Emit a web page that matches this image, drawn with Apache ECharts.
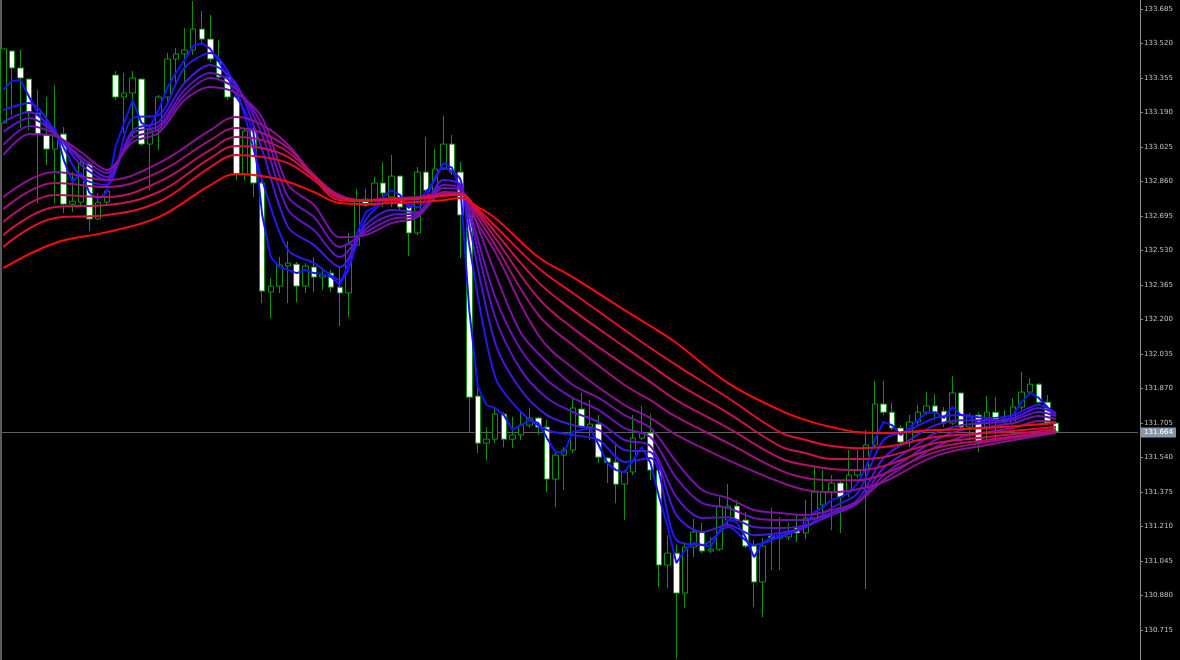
<!DOCTYPE html>
<html>
<head>
<meta charset="utf-8">
<script src="https://cdn.jsdelivr.net/npm/echarts@6/dist/echarts.min.js"></script>
<style>
html,body{margin:0;padding:0;background:#000;}
#chart{width:1180px;height:660px;}
</style>
</head>
<body>
<div id="chart"></div>
<script>
// ---- data ----
const slotCount = 132; // bar slots on the time axis (last 9 are the empty right margin)
const categories = Array.from({length: slotCount}, (_, i) => 'b' + i);

// candles: [open, close, low, high]
const candles = [
[133.140,133.494,133.140,133.494],[133.484,133.403,133.178,133.489],[133.403,133.355,133.116,133.489],
[133.350,133.188,133.106,133.350],[133.188,133.087,132.757,133.298],[133.082,133.015,132.939,133.264],
[133.015,133.082,132.757,133.321],[133.087,132.752,132.709,133.120],[132.752,132.766,132.714,132.905],
[132.761,132.949,132.747,132.968],[132.944,132.681,132.623,132.953],[132.681,132.761,132.676,132.805],
[132.761,132.814,132.747,132.824],[133.369,133.264,133.250,133.388],[133.264,133.283,133.092,133.379],
[133.283,133.355,133.073,133.388],[133.350,133.039,133.030,133.350],[133.039,133.106,132.819,133.130],
[133.106,133.264,133.011,133.274],[133.264,133.446,133.226,133.475],[133.446,133.470,133.317,133.498],
[133.470,133.489,133.331,133.594],[133.489,133.589,133.465,133.722],[133.589,133.541,133.513,133.675],
[133.541,133.446,133.431,133.656],[133.436,133.360,133.345,133.537],[133.360,133.264,133.250,133.360],
[133.264,132.896,132.867,133.307],[132.896,133.102,132.867,133.116],[133.106,132.853,132.786,133.140],
[132.853,132.336,132.279,132.867],[132.332,132.360,132.207,132.398],[132.360,132.461,132.327,132.499],
[132.456,132.470,132.279,132.575],[132.465,132.360,132.284,132.475],[132.360,132.456,132.327,132.470],
[132.451,132.403,132.332,132.499],[132.403,132.413,132.341,132.437],[132.422,132.355,132.332,132.437],
[132.355,132.327,132.169,132.451],[132.327,132.561,132.212,132.614],[132.556,132.771,132.551,132.824],
[132.776,132.747,132.738,132.824],[132.747,132.853,132.738,132.882],[132.853,132.805,132.738,132.953],
[132.786,132.886,132.738,132.987],[132.886,132.738,132.724,132.886],[132.738,132.614,132.504,132.747],
[132.614,132.905,132.604,132.929],[132.905,132.819,132.810,133.073],[132.819,132.920,132.771,133.015],
[132.920,133.039,132.915,133.173],[133.039,132.905,132.891,133.082],[132.905,132.700,132.494,132.953],
[132.700,131.829,131.662,132.709],[131.834,131.609,131.561,131.896],[131.609,131.628,131.528,131.686],
[131.628,131.748,131.609,131.777],[131.748,131.628,131.590,131.757],[131.628,131.648,131.585,131.734],
[131.648,131.695,131.624,131.767],[131.695,131.729,131.681,131.777],[131.729,131.686,131.648,131.734],
[131.686,131.437,131.375,131.719],[131.437,131.552,131.303,131.566],[131.552,131.576,131.385,131.590],
[131.576,131.777,131.561,131.825],[131.772,131.686,131.681,131.849],[131.686,131.700,131.624,131.815],
[131.700,131.542,131.514,131.743],[131.538,131.518,131.418,131.542],[131.518,131.413,131.322,131.609],
[131.413,131.471,131.241,131.480],[131.471,131.633,131.456,131.743],[131.633,131.657,131.624,131.787],
[131.657,131.480,131.432,131.748],[131.480,131.026,130.921,131.490],[131.026,131.083,130.916,131.169],
[131.083,130.892,130.580,131.122],[130.892,131.112,130.820,131.136],[131.112,131.184,131.064,131.246],
[131.184,131.093,131.083,131.227],[131.093,131.102,131.083,131.160],[131.102,131.308,131.093,131.351],
[131.241,131.308,131.217,131.413],[131.308,131.241,131.232,131.337],[131.241,131.117,131.107,131.280],
[131.117,130.945,130.825,131.146],[130.945,131.117,130.777,131.155],[131.165,131.155,131.002,131.299],
[131.155,131.165,131.002,131.255],[131.160,131.179,131.146,131.227],[131.203,131.179,131.136,131.265],
[131.179,131.251,131.150,131.337],[131.251,131.375,131.232,131.495],[131.313,131.375,131.241,131.480],
[131.375,131.418,131.193,131.456],[131.418,131.351,131.179,131.428],[131.375,131.456,131.351,131.576],
[131.456,131.480,131.442,131.576],[131.480,131.600,130.911,131.672],[131.600,131.796,131.590,131.906],
[131.796,131.757,131.743,131.906],[131.757,131.681,131.672,131.801],[131.681,131.614,131.600,131.695],
[131.614,131.710,131.590,131.743],[131.710,131.757,131.695,131.791],[131.757,131.787,131.743,131.853],
[131.787,131.757,131.719,131.844],[131.762,131.705,131.686,131.782],[131.705,131.849,131.695,131.930],
[131.849,131.686,131.672,131.849],[131.686,131.734,131.624,131.753],[131.743,131.614,131.566,131.757],
[131.686,131.757,131.624,131.834],[131.757,131.719,131.624,131.829],[131.719,131.710,131.695,131.767],
[131.705,131.782,131.695,131.825],[131.782,131.853,131.767,131.949],[131.853,131.891,131.839,131.920],
[131.891,131.805,131.791,131.896],[131.805,131.705,131.695,131.839],[131.705,131.664,131.657,131.705]
];

// fastest average, one value per bar
const ema1 = [
133.298,133.341,133.345,133.264,133.188,133.130,133.116,132.963,132.858,132.901,
132.805,132.776,132.810,133.025,133.140,133.250,133.140,133.121,133.202,133.307,
133.379,133.441,133.508,133.522,133.494,133.431,133.360,133.264,133.202,133.092,
132.700,132.499,132.451,132.437,132.422,132.437,132.422,132.418,132.403,132.365,
132.470,132.614,132.714,132.738,132.786,132.819,132.795,132.733,132.771,132.810,
132.867,132.949,132.925,132.819,132.245,131.877,131.791,131.777,131.743,131.672,
131.695,131.719,131.705,131.633,131.566,131.566,131.662,131.672,131.681,131.600,
131.514,131.480,131.471,131.528,131.590,131.514,131.351,131.208,131.036,131.098,
131.131,131.122,131.112,131.193,131.241,131.232,131.160,131.064,131.131,131.160,
131.169,131.179,131.193,131.227,131.279,131.303,131.337,131.351,131.370,131.418,
131.495,131.624,131.710,131.695,131.648,131.681,131.719,131.753,131.757,131.729,
131.782,131.743,131.734,131.705,131.719,131.719,131.710,131.743,131.805,131.849,
131.825,131.782,131.743
];

// bars at which the next five (short) averages were read
const shortBars = [0,3,6,9,12,15,18,21,24,27,30,33,36,39,42,45,48,51,53,54,57,60,63,66,69,72,75,78,81,84,87,90,93,96,99,102,105,108,111,114,117,120,122];
const ema2 = [133.202,133.235,133.097,132.881,132.843,133.164,133.178,133.403,133.475,133.298,132.867,132.532,132.470,132.389,132.676,132.771,132.738,132.925,132.867,132.556,131.925,131.758,131.672,131.648,131.624,131.519,131.538,131.146,131.122,131.208,131.122,131.160,131.208,131.299,131.370,131.624,131.672,131.729,131.743,131.729,131.743,131.791,131.753];
const ema3 = [133.145,133.192,133.097,132.939,132.867,133.106,133.145,133.331,133.417,133.326,133.011,132.642,132.556,132.451,132.652,132.724,132.714,132.867,132.843,132.652,132.088,131.863,131.743,131.695,131.672,131.576,131.566,131.265,131.184,131.217,131.169,131.179,131.208,131.275,131.337,131.538,131.624,131.695,131.719,131.719,131.729,131.777,131.748];
const ema4 = [133.097,133.164,133.092,132.963,132.881,133.092,133.125,133.298,133.379,133.317,133.082,132.724,132.628,132.499,132.633,132.700,132.709,132.843,132.829,132.700,132.212,131.958,131.825,131.758,131.710,131.624,131.595,131.351,131.251,131.255,131.208,131.203,131.217,131.265,131.322,131.490,131.576,131.657,131.695,131.705,131.719,131.758,131.739];
const ema5 = [133.035,133.125,133.087,132.977,132.901,133.068,133.111,133.274,133.355,133.302,133.130,132.786,132.690,132.547,132.618,132.681,132.700,132.829,132.819,132.724,132.308,132.054,131.911,131.825,131.767,131.681,131.638,131.442,131.322,131.299,131.251,131.241,131.241,131.275,131.322,131.456,131.542,131.624,131.672,131.686,131.705,131.739,131.724];
const ema6 = [132.987,133.087,133.078,133.001,132.915,133.049,133.092,133.250,133.312,133.283,133.164,132.843,132.748,132.594,132.604,132.661,132.690,132.810,132.805,132.748,132.422,132.135,131.997,131.887,131.825,131.743,131.681,131.519,131.385,131.346,131.289,131.275,131.265,131.289,131.327,131.432,131.514,131.590,131.638,131.662,131.681,131.715,131.710];

// bars at which the six slow averages were read
const longBars = [0,6,12,18,24,27,30,33,36,39,42,45,48,51,53,55,57,62,66,72,75,78,84,90,93,96,99,102,108,114,122];
const ema7  = [132.786,132.905,132.867,132.948,133.106,133.168,133.130,133.035,132.891,132.795,132.771,132.781,132.786,132.805,132.805,132.657,132.523,132.126,131.968,131.791,131.729,131.648,131.528,131.423,131.385,131.375,131.389,131.423,131.547,131.600,131.657];
const ema8  = [132.728,132.853,132.834,132.905,133.058,133.116,133.092,133.020,132.891,132.791,132.771,132.776,132.781,132.800,132.805,132.686,132.556,132.222,132.078,131.887,131.815,131.734,131.609,131.480,131.442,131.432,131.432,131.461,131.566,131.614,131.662];
const ema9  = [132.666,132.795,132.786,132.858,133.011,133.073,133.058,133.001,132.886,132.786,132.771,132.776,132.781,132.795,132.800,132.705,132.590,132.303,132.159,131.982,131.901,131.815,131.681,131.538,131.504,131.485,131.480,131.499,131.585,131.624,131.667];
const ema10 = [132.604,132.738,132.748,132.810,132.972,133.030,133.020,132.977,132.881,132.781,132.771,132.776,132.781,132.795,132.800,132.719,132.618,132.379,132.245,132.069,131.982,131.896,131.753,131.595,131.561,131.533,131.533,131.542,131.609,131.638,131.676];
const ema11 = [132.547,132.686,132.700,132.762,132.929,132.987,132.977,132.948,132.867,132.771,132.767,132.771,132.776,132.791,132.795,132.728,132.647,132.446,132.327,132.150,132.064,131.982,131.825,131.662,131.624,131.595,131.585,131.590,131.638,131.657,131.686];
const ema12 = [132.446,132.566,132.618,132.690,132.843,132.896,132.886,132.858,132.810,132.757,132.752,132.757,132.762,132.771,132.781,132.738,132.686,132.499,132.403,132.245,132.169,132.088,131.896,131.767,131.719,131.686,131.662,131.657,131.672,131.681,131.705];

const priceTicks = [130.715,130.880,131.045,131.210,131.375,131.540,131.705,131.870,132.035,132.200,132.365,132.530,132.695,132.860,133.025,133.190,133.355,133.520,133.685];
const lastPrice = 131.664;
const yMin = 130.572, yMax = 133.728;

const lineColors = ['#1414ff','#2a16f2','#4a16de','#5e14c8','#6e12b6','#7c12a6','#8c1290','#a0127c','#b41266','#cc1250','#e60e30','#ff0a0a'];

// ---- build ----
const zip = (bars, vals) => bars.map((b, i) => [b, vals[i]]);
const lineSeries = [];
const addLine = (name, data, idx, smooth) => lineSeries.push({
  name, type: 'line', data, symbol: 'none', smooth, silent: true,
  lineStyle: {color: lineColors[idx], width: 2}, z: 3 + idx
});
addLine('EMA1', ema1, 0, false);
[ema2, ema3, ema4, ema5, ema6].forEach((v, k) => addLine('EMA' + (k + 2), zip(shortBars, v), k + 1, 0.3));
[ema7, ema8, ema9, ema10, ema11, ema12].forEach((v, k) => addLine('EMA' + (k + 7), zip(longBars, v), k + 6, 0.4));

const chart = echarts.init(document.getElementById('chart'), null, {renderer: 'canvas'});
chart.setOption({
  backgroundColor: '#000',
  animation: false,
  grid: {left: -1, top: 0, width: 1139, bottom: 0, containLabel: false, outerBoundsMode: 'none'},
  xAxis: {type: 'category', data: categories, boundaryGap: true, show: false},
  yAxis: {
    type: 'value', position: 'right', min: yMin, max: yMax, offset: 2, scale: true,
    splitLine: {show: false},
    axisLine: {show: true, lineStyle: {color: '#8c8c8c', width: 1}},
    axisTick: {show: true, length: 3, lineStyle: {color: '#8c8c8c'}, customValues: priceTicks},
    axisLabel: {show: true, color: '#c4c4c4', fontSize: 7, fontFamily: 'DejaVu Sans', margin: 4,
      customValues: priceTicks, formatter: v => v.toFixed(3)}
  },
  graphic: [{type: 'rect', shape: {x: 0, y: 0, width: 2, height: 660}, style: {fill: '#5a5a5a'}, silent: true}],
  series: [{
    type: 'candlestick', data: candles, barWidth: 6, z: 2, silent: true,
    itemStyle: {color: '#000', color0: '#ffffff', borderColor: '#0a960a', borderColor0: '#0a960a', borderWidth: 1},
    markLine: {
      silent: true, symbol: 'none', z: 1,
      lineStyle: {color: '#5e5e5e', width: 1, type: 'solid'},
      label: {show: true, position: 'end', distance: 3, formatter: lastPrice.toFixed(3),
        color: '#ffffff', backgroundColor: '#8898ac', padding: [2, 3, 1, 3], fontSize: 7, fontFamily: 'DejaVu Sans'},
      data: [{yAxis: lastPrice}]
    }
  }].concat(lineSeries)
});
</script>
</body>
</html>
